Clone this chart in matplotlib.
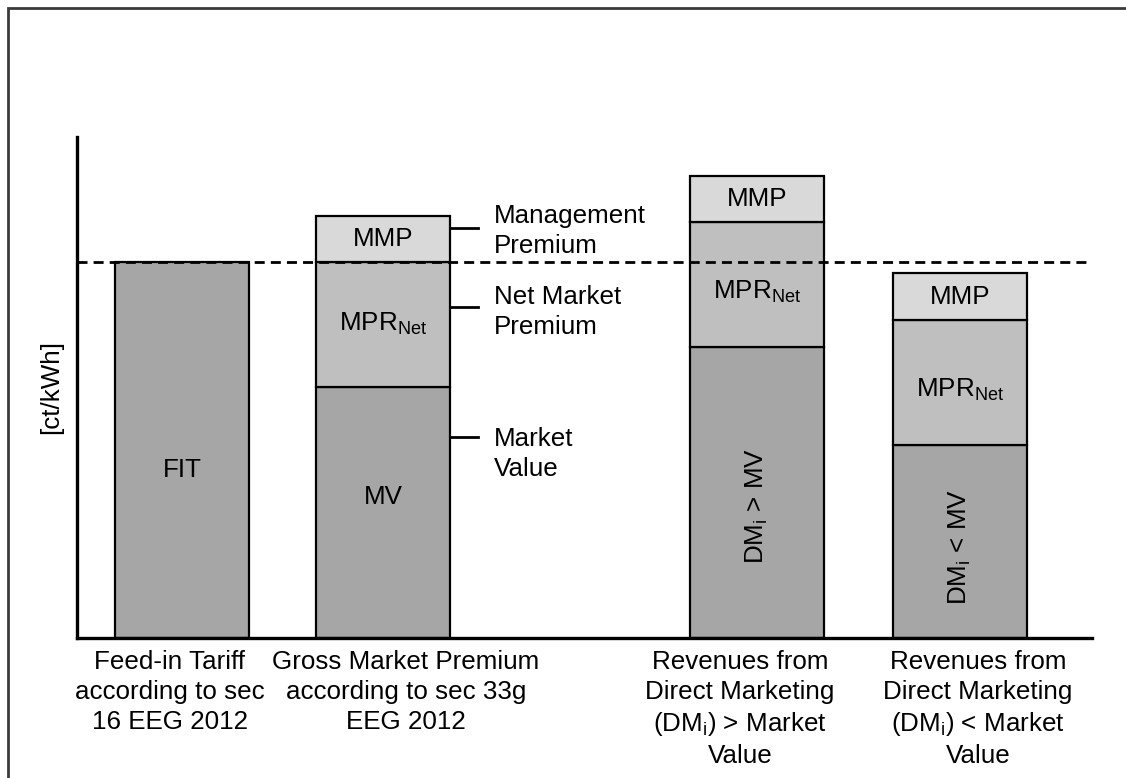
import matplotlib
matplotlib.use("Agg")
from matplotlib import pyplot as plt
from matplotlib.patches import Rectangle

plt.rcParams['font.family'] = ['Liberation Sans', 'DejaVu Sans']
plt.rcParams['mathtext.fontset'] = 'custom'
plt.rcParams['mathtext.rm'] = 'Liberation Sans'
plt.rcParams['mathtext.it'] = 'Liberation Sans'

# data (ct/kWh, schematic)
positions = [0, 1, 2.86, 3.87]
base_values = [15, 10, 11.6, 7.7]
mpr_values = [0, 5, 5, 5]
mmp_values = [0, 1.85, 1.85, 1.85]
base_labels = ["FIT", "MV", "DM$_\\mathrm{i}$ > MV", "DM$_\\mathrm{i}$ < MV"]
base_label_y = [6.72, 5.64, 5.28, 3.64]
mpr_label_y = [0, 12.52, 13.8, 9.92]
categories = [
    "Feed-in Tariff\naccording to sec\n16 EEG 2012",
    "Gross Market Premium\naccording to sec 33g\nEEG 2012",
    "Revenues from\nDirect Marketing\n(DM$_\\mathrm{i}$) > Market\nValue",
    "Revenues from\nDirect Marketing\n(DM$_\\mathrm{i}$) < Market\nValue",
]
category_x = [-0.06, 1.114, 2.776, 3.96]
side_labels = ["Management\nPremium", "Net Market\nPremium", "Market\nValue"]
side_line_y = [16.36, 13.2, 8.04]
side_text_y = [16.25, 13.0, 7.33]
reference_level = 15

c_base = "#a6a6a6"
c_mpr = "#bfbfbf"
c_mmp = "#d9d9d9"
width = 0.667
fs = 18.7

fig = plt.figure(figsize=(11.26, 7.78), dpi=100)
ax = fig.add_axes([0.0684, 0.180, 0.9014, 0.644])

# figure frame
fig.patches.append(Rectangle((8 / 1126, -0.05), 1.1, 1 - 8 / 778 + 0.05,
                             transform=fig.transFigure, fill=False,
                             edgecolor="#3a3a3a", linewidth=2))

bottoms_mpr = base_values
bottoms_mmp = [b + m for b, m in zip(base_values, mpr_values)]
ax.bar(positions, base_values, width=width, color=c_base, edgecolor="black", linewidth=1.6, zorder=2)
idx = [i for i in range(len(positions)) if mpr_values[i] > 0]
ax.bar([positions[i] for i in idx], [mpr_values[i] for i in idx], bottom=[bottoms_mpr[i] for i in idx],
       width=width, color=c_mpr, edgecolor="black", linewidth=1.6, zorder=2)
ax.bar([positions[i] for i in idx], [mmp_values[i] for i in idx], bottom=[bottoms_mmp[i] for i in idx],
       width=width, color=c_mmp, edgecolor="black", linewidth=1.6, zorder=2)

ax.axhline(reference_level, color="black", linewidth=2, dashes=(3.6, 2.2), zorder=3)

# labels inside bars
for i, x in enumerate(positions):
    rot = 0 if i < 2 else 90
    ax.text(x, base_label_y[i], base_labels[i], ha="center", va="center",
            fontsize=fs, rotation=rot, zorder=4)
    if mpr_values[i] > 0:
        ax.text(x, mpr_label_y[i], "MPR$_\\mathrm{Net}$",
                ha="center", va="center", fontsize=fs, zorder=4)
        ax.text(x, bottoms_mmp[i] + mmp_values[i] / 2, "MMP",
                ha="center", va="center", fontsize=fs, zorder=4)

# side annotations for the gross market premium bar
x_edge = positions[1] + width / 2
for ly, ty, lab in zip(side_line_y, side_text_y, side_labels):
    ax.plot([x_edge, x_edge + 0.14], [ly, ly], color="black", linewidth=2, zorder=3, clip_on=False)
    ax.text(positions[1] + 0.552, ty, lab, ha="left", va="center", fontsize=fs, linespacing=1.3)

ax.set_xlim(-0.5224, 4.527)
ax.set_ylim(0, 20)
ax.set_xticks(category_x)
ax.set_xticklabels(categories, fontsize=fs, linespacing=1.3)
ax.tick_params(axis="x", length=0, pad=9)
ax.set_yticks([])
ax.set_ylabel("[ct/kWh]", fontsize=fs, labelpad=10)
for s in ["top", "right"]:
    ax.spines[s].set_visible(False)
for s in ["left", "bottom"]:
    ax.spines[s].set_linewidth(2.4)
    ax.spines[s].set_zorder(5)

fig.savefig("out.png", dpi=100)
